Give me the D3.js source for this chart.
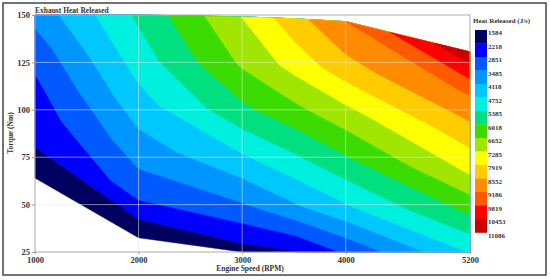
<!DOCTYPE html>
<html>
<head>
<meta charset="utf-8">
<script src="https://cdn.jsdelivr.net/npm/d3@7"></script>
<style>
  body { margin: 0; background: #fff; }
  text { font-family: "Liberation Serif", "Times New Roman", serif; font-weight: bold; fill: #333; }
</style>
</head>
<body>
<svg id="chart" width="550" height="280"></svg>
<script>
// engine operating envelope
const speeds = [1000, 2000, 3000, 3500, 4000, 5200];
const torqueMin = [64, 32.5, 25, 25, 25, 25];
const torqueMax = [150, 150, 149, 148, 146.5, 130.5];

// heat released (J/s): row 0 at min torque ... row 5 at max torque, evenly spaced
const heatRows = [
  [1960, 1600, 1950, 2180, 2950, 4800],
  [2235, 3080, 3430, 4050, 4690, 6110],
  [2510, 3820, 4640, 5250, 5900, 7360],
  [2780, 4490, 5840, 6420, 7050, 8290],
  [3160, 5060, 6740, 7500, 8300, 9280],
  [3700, 5500, 7300, 8300, 9186, 10950]
];

const levels = [1584, 2218, 2851, 3485, 4118, 4752, 5385, 6018, 6652, 7285, 7919, 8552, 9186, 9819, 10453, 11086];
const bandColors = ["#000060", "#0000ff", "#005aff", "#0096ff", "#00c8ff", "#00f0e0", "#00e080", "#3cdc00",
  "#a0e600", "#ffff00", "#ffcc00", "#ff8c00", "#ff5a00", "#ff0000", "#c80000"];

const xTicks = [1000, 2000, 3000, 4000, 5200];
const yTicks = [25, 50, 75, 100, 125, 150];

const svg = d3.select("#chart");
const plot = { left: 35, right: 470, top: 15, bottom: 252 };

const x = d3.scaleLinear([1000, 5200], [plot.left, plot.right]);
const y = d3.scaleLinear([25, 150], [plot.bottom, plot.top]);

// outer frame
svg.append("rect")
  .attr("x", 3).attr("y", 3).attr("width", 543).attr("height", 272)
  .attr("fill", "#fff").attr("stroke", "#444").attr("stroke-width", 1.5);

// contours on the speed x (relative torque) grid
const nx = speeds.length, ny = heatRows.length;
const grid = heatRows.flat();
const bands = d3.contours().size([nx, ny]).thresholds(levels.slice(0, 15))(grid);

const lerp = (arr, p) => {
  const i = Math.min(Math.floor(p), arr.length - 2);
  const f = p - i;
  return arr[i] + f * (arr[i + 1] - arr[i]);
};

function toScreen([cx, cy]) {
  const p = Math.max(0, Math.min(nx - 1, cx - 0.5));
  const q = Math.max(0, Math.min(ny - 1, cy - 0.5));
  const t0 = lerp(torqueMin, p), t1 = lerp(torqueMax, p);
  const t = t0 + (q / (ny - 1)) * (t1 - t0);
  return [x(lerp(speeds, p)), y(t)];
}

const bandPath = (c) => c.coordinates.map(poly =>
  poly.map(ring => "M" + ring.map(pt => toScreen(pt).join(",")).join("L") + "Z").join("")
).join("");

svg.append("g")
  .selectAll("path")
  .data(bands)
  .join("path")
  .attr("d", bandPath)
  .attr("fill", (d, i) => bandColors[i])
  .attr("stroke", (d, i) => bandColors[i])
  .attr("stroke-width", 0.5);

// grid lines
const gridG = svg.append("g").attr("stroke", "#e8e8e8").attr("stroke-opacity", 0.55).attr("stroke-width", 1);
gridG.selectAll("line.v")
  .data(xTicks.slice(1, -1))
  .join("line")
  .attr("x1", d => x(d)).attr("x2", d => x(d))
  .attr("y1", plot.top).attr("y2", plot.bottom);
gridG.selectAll("line.h")
  .data(yTicks.slice(1, -1))
  .join("line")
  .attr("x1", plot.left).attr("x2", plot.right)
  .attr("y1", d => y(d)).attr("y2", d => y(d));

// plot frame
svg.append("rect")
  .attr("x", plot.left).attr("y", plot.top)
  .attr("width", plot.right - plot.left).attr("height", plot.bottom - plot.top)
  .attr("fill", "none").attr("stroke", "#aaa").attr("stroke-width", 1);

// axes
const xAxis = svg.append("g")
  .attr("transform", `translate(0,${plot.bottom})`)
  .call(d3.axisBottom(x).tickValues(xTicks).tickFormat(d3.format("d")).tickSize(2).tickSizeOuter(0).tickPadding(3));
const yAxis = svg.append("g")
  .attr("transform", `translate(${plot.left},0)`)
  .call(d3.axisLeft(y).tickValues(yTicks).tickSize(3).tickSizeOuter(0).tickPadding(2));
[xAxis, yAxis].forEach(a => {
  a.select(".domain").remove();
  a.selectAll(".tick line").attr("stroke", "#999");
  a.selectAll(".tick text").attr("font-size", 8.5).attr("font-family", null).attr("fill", "#333");
});

// titles
svg.append("text").attr("x", plot.left).attr("y", 13).attr("font-size", 7.5).text("Exhaust Heat Released");
svg.append("text").attr("x", 250).attr("y", 271).attr("text-anchor", "middle").attr("font-size", 7.5)
  .text("Engine Speed (RPM)");
svg.append("text").attr("transform", "translate(13,133) rotate(-90)").attr("text-anchor", "middle")
  .attr("font-size", 7.5).text("Torque (Nm)");

// legend
const legendY = d3.scaleLinear([0, 15], [30, 232.5]);
svg.append("text").attr("x", 473).attr("y", 23).attr("font-size", 7).text("Heat Released (J/s)");
svg.append("g")
  .selectAll("rect")
  .data(bandColors)
  .join("rect")
  .attr("x", 475).attr("width", 12)
  .attr("y", (d, i) => legendY(i))
  .attr("height", (d, i) => legendY(i + 1) - legendY(i) + 0.3)
  .attr("fill", d => d);
svg.append("g")
  .selectAll("text")
  .data(levels)
  .join("text")
  .attr("x", 488)
  .attr("y", (d, i) => legendY(i) + 2.6)
  .attr("dy", "0.35em")
  .attr("font-size", 7)
  .text(d => d);
</script>
</body>
</html>
